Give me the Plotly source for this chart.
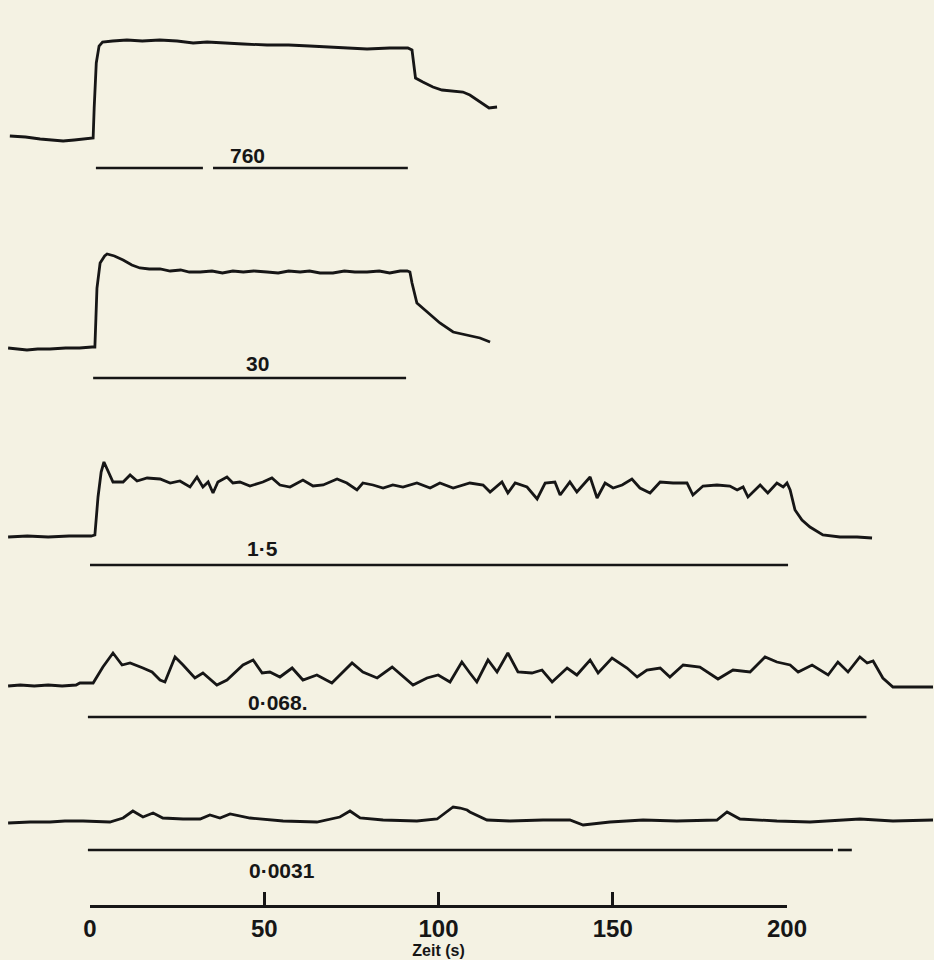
import plotly.graph_objects as go

# ---------------- data (time in s, deflection in arbitrary pen units) ----------------
labels = ["760", "30", "1·5", "0·068.", "0·0031"]

t760 = [-23.0, -18.5, -14.3, -10.5, -7.7, -4.5, -1.5, 0.9, 1.2, 1.8, 2.6, 3.6, 6.5, 10.6, 15, 20, 25,
        29.6, 33.6, 38, 44, 50.8, 57, 63, 69.7, 75, 79.5, 86, 91.2, 92.4, 92.9, 93.4, 95.5, 98.4,
        101, 103.3, 107, 109, 111, 113, 114.5, 116.8]
r760 = [2, 1, -1, -2, -3, -2, -1, 0, 30, 75, 92, 96, 97, 98, 97, 98, 97,
        95, 96, 95, 94, 93, 93, 92, 91, 90, 89, 90, 90, 88, 72, 60, 56, 51,
        48, 47, 46, 43, 38, 33, 30, 31]

t30 = [-23.5, -20.5, -18.1, -15, -11.5, -7, -3, 0.6, 1.4, 1.7, 2.0, 2.9, 4.2, 4.9, 7, 9.5, 12, 14.3,
       17, 20.1, 23, 26, 28.5, 31.6, 35, 38, 41, 44, 47, 50.8, 54, 57, 60.3, 63, 66, 69.7, 73, 76,
       79.5, 83, 86, 89, 91, 91.8, 92.4, 93.8, 96.7, 100.4, 104.2, 108.2, 111.9, 114.8]
r30 = [0, -1, -2, -1, -1, 0, 0, 1, 1, 30, 60, 85, 92, 94, 92, 88, 83, 80,
       79, 79, 77, 78, 76, 76, 77, 75, 77, 76, 77, 76, 75, 77, 76, 77, 75, 75, 77, 76,
       76, 77, 75, 77, 77, 76, 65, 45, 36, 25, 16, 13, 10, 6]

t15 = [-23.5, -18, -12, -6, 0.3, 1.4, 2.3, 3.2, 4.0, 6.6, 9.5, 11.5, 13.5, 16.4, 20.1, 23, 25.8,
       28.7, 30.7, 32.4, 33.9, 35.3, 36.7, 39.3, 41, 43, 45.9, 49.6, 52.2, 54.5, 57.4, 61.1, 64,
       66.9, 70.9, 73.7, 76.6, 78.3, 81.2, 84.1, 86.9, 89.8, 93.8, 97.6, 100.4, 104.2, 109, 112.8,
       114.8, 118.2, 119.9, 122, 125.4, 128.3, 130.6, 133.4, 134.9, 137.7, 139.7, 143.5, 145.5,
       147.8, 150.1, 152.7, 155.5, 157.8, 160.7, 163.6, 167.3, 171.3, 173, 175.9, 179.9, 183.6,
       185.7, 187.4, 188.8, 192.3, 194.5, 197.1, 198.9, 200, 200.9, 202.3, 204.3, 206.6, 210.3,
       215.2, 220.1, 224.4]
r15 = [0, 1, 0, 1, 1, 2, 40, 65, 75, 55, 55, 62, 56, 59, 58, 54, 56,
       50, 60, 50, 55, 44, 55, 60, 54, 55, 51, 55, 59, 52, 50, 57, 51,
       52, 58, 54, 47, 54, 52, 49, 52, 50, 54, 49, 54, 49, 54, 52,
       45, 55, 44, 54, 50, 38, 54, 55, 42, 55, 45, 60, 39,
       54, 49, 52, 58, 49, 44, 55, 54, 54, 42, 51, 52, 51,
       47, 50, 40, 52, 44, 54, 50, 54, 47, 27, 17, 10, 2,
       0, 0, -1]

t068 = [-23.5, -20, -16, -12, -8, -4, -2.9, 0.9, 3.7, 6.6, 9.2, 11.5, 15.2, 17.8, 20.1, 21.5, 24.4,
        26.7, 30.1, 32.4, 36.4, 39.3, 43.9, 46.8, 49.4, 51.6, 54.5, 58, 61.1, 65.1, 69.4, 72.3,
        75.2, 78.3, 82.4, 86.7, 92.7, 96.7, 99.9, 103.3, 106.7, 109, 111, 114.2, 116.8, 119.9,
        122.8, 126.8, 129.7, 132.6, 136.9, 139.7, 143.5, 145.8, 149.8, 154.1, 157, 159.8, 163.6,
        166.4, 170.2, 175, 180.2, 184.5, 189.4, 193.7, 197.1, 200.9, 203.2, 207.2, 211.8, 214.6,
        217.5, 220.9, 223, 224.7, 227.5, 230.4, 235.3, 241.9]
r068 = [0, 1, 0, 1, 0, 1, 3, 3, 19, 33, 21, 23, 18, 14, 6, 4, 29,
        21, 8, 13, 1, 6, 21, 26, 13, 14, 9, 18, 6, 11, 3, 13,
        23, 14, 8, 19, 1, 8, 11, 4, 24, 13, 4, 26, 14, 33,
        14, 13, 16, 4, 18, 11, 26, 13, 28, 18, 9, 16, 18,
        9, 21, 19, 7, 16, 14, 29, 24, 21, 14, 21, 11, 24,
        14, 29, 23, 25, 8, -1, -1, -1]

t0031 = [-23.5, -17.2, -11.5, -7.2, -2, 2.9, 5.7, 9.5, 12.3, 15.2, 18.1, 20.9, 26.7, 31.6, 34.4,
         37.3, 40.2, 45.9, 55.4, 65.1, 71.7, 74.6, 77.5, 84.1, 93.8, 99.6, 104.2, 106.2, 108.2,
         109, 113.9, 120.5, 130, 137.7, 141.5, 149.2, 158.7, 168.4, 179.9, 182.8, 186.5, 197.1,
         206.6, 220.9, 230.4, 241.9]
r0031 = [-1, 0, 0, 1, 1, 0, 0, 4, 11, 5, 9, 4, 3, 3, 7,
         4, 8, 4, 1, 0, 5, 11, 4, 2, 1, 3, 15, 14, 12,
         10, 2, 1, 2, 2, -3, 0, 2, 1, 2, 10, 3, 1,
         0, 3, 1, 2]

# stimulus bars (start, end) in s, per record
bars = [
    [(1.7, 32.4), (35.3, 91.2)],
    [(0.9, 90.7)],
    [(0.0, 200.3)],
    [(-0.6, 132.3), (133.4, 222.8)],
    [(-0.6, 213.2), (214.6, 218.6)],
]
label_time = [45.3, 48.2, 49.4, 54.0, 55.1]

tick_vals = [0, 50, 100, 150, 200]
axis_title = "Zeit (s)"

# ---------------- layout (pixel-like vertical units, y up) ----------------
W, H = 934, 960
PX_PER_S = (787 - 90) / 200.0
X0 = -90 / PX_PER_S
X1 = (W - 90) / PX_PER_S

baselines_px = [138, 348, 537, 686, 822]
bar_gap_px = [30, 30, 28, 31, 28]
label_px = [155, 363, 548, 702, 870]

INK = "#161616"
PAPER = "#f4f2e3"
FONT = "Liberation Sans Narrow, Liberation Sans, Arial"

series = [(t760, r760), (t30, r30), (t15, r15), (t068, r068), (t0031, r0031)]

fig = go.Figure()
for i, (t, r) in enumerate(series):
    base = H - baselines_px[i]
    fig.add_trace(go.Scatter(x=t, y=[base + v for v in r], mode="lines",
                             line=dict(color=INK, width=2.8), showlegend=False,
                             hoverinfo="skip"))
    ybar = base - bar_gap_px[i]
    for (s, e) in bars[i]:
        fig.add_trace(go.Scatter(x=[s, e], y=[ybar, ybar], mode="lines",
                                 line=dict(color=INK, width=2.6), showlegend=False,
                                 hoverinfo="skip"))
    fig.add_annotation(x=label_time[i], y=H - label_px[i], text=labels[i], showarrow=False,
                       font=dict(family=FONT, size=21, color=INK, weight="bold"),
                       xanchor="center", yanchor="middle")

# time scale axis (separate axis spanning 0..200 s)
fig.add_trace(go.Scatter(x=[0, 200], y=[0, 0], xaxis="x2", yaxis="y2", mode="lines",
                         line=dict(color="rgba(0,0,0,0)"), showlegend=False, hoverinfo="skip"))

fig.update_layout(
    width=W, height=H, autosize=False, showlegend=False,
    margin=dict(l=0, r=0, t=0, b=0, pad=0, autoexpand=False),
    paper_bgcolor=PAPER, plot_bgcolor="rgba(0,0,0,0)",
    xaxis=dict(range=[X0, X1], visible=False, domain=[0, 1], automargin=False),
    yaxis=dict(range=[0, H], visible=False, domain=[0, 1], automargin=False),
    xaxis2=dict(domain=[90 / W, 787 / W], range=[0, 200], anchor="y2", automargin=False,
                showline=True, linecolor=INK, linewidth=2.6,
                ticks="inside", ticklen=13, tickwidth=2.6, tickcolor=INK,
                tickvals=tick_vals, showgrid=False, zeroline=False,
                tickfont=dict(family=FONT, size=24, color=INK, weight="bold"),
                title=dict(text=axis_title, standoff=0,
                           font=dict(family=FONT, size=16, color=INK, weight="bold"))),
    yaxis2=dict(domain=[(H - 905) / H, 1], range=[0, 1], visible=False, anchor="x2",
                automargin=False),
)

fig.write_html("out.html", config={"displayModeBar": False, "responsive": False},
               post_script="document.body.style.margin='0';document.body.style.overflow='hidden';"
                           "document.body.style.background='" + PAPER + "';")
